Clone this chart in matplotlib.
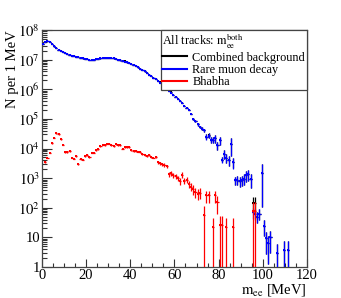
import numpy as np
import matplotlib
matplotlib.use('Agg')
import matplotlib.pyplot as plt
from matplotlib.lines import Line2D
from matplotlib.ticker import FuncFormatter, LogLocator, MultipleLocator, NullFormatter

plt.rcParams['font.family'] = ['Liberation Serif', 'DejaVu Serif']
plt.rcParams['mathtext.fontset'] = 'stix'

nan = np.nan

# rare muon decay, N per 1 MeV bin (bins 0-1, 1-2, ... MeV)
blue_n = [3.5e7, 4.0e7, 4.4e7, 4.0e7, 3.3e7, 2.8e7, 2.45e7, 2.15e7, 1.95e7, 1.78e7,
          1.66e7, 1.55e7, 1.45e7, 1.38e7, 1.32e7, 1.26e7, 1.20e7, 1.15e7, 1.10e7, 1.07e7,
          1.03e7, 1.0e7, 1.0e7, 1.0e7, 1.03e7, 1.07e7, 1.10e7, 1.12e7, 1.15e7, 1.15e7,
          1.15e7, 1.12e7, 1.10e7, 1.05e7, 1.0e7, 9.5e6, 9.1e6, 8.7e6, 8.1e6, 7.8e6,
          7.2e6, 6.6e6, 6.0e6, 5.5e6, 5.0e6, 4.5e6, 4.0e6, 3.55e6, 3.16e6, 2.8e6,
          2.5e6, 2.24e6, 1.95e6, 1.7e6, 1.48e6, 1.26e6, 1.07e6, 9.1e5, 7.8e5, 6.6e5,
          5.6e5, 4.8e5, 4.1e5, 3.4e5, 2.8e5, 2.35e5, 2.0e5, 1.5e5, 1.0e5, 8.5e4,
          6.6e4, 5.4e4, 4.7e4, 4.2e4, 2.5e4, 2.75e4, 2.0e4, 2.0e4, 2.2e4, 1.3e4,
          1.9e4, 4.2e3, 6.8e3, 4.9e3, 4.0e3, 1.45e4, 3.5e3, 850, 900, 800,
          850, 950, 1250, 1350, 950, 70, 63, 50, 63, 1500,
          24, 9.3, 6.3, 10, nan, nan, 2.9, nan, nan, 3.7,
          nan, 3.7]
# relative errors of the blue points from the 68-69 MeV bin on
blue_tail_relerr = [0.08, 0.08, 0.1, 0.1, 0.12, 0.12, 0.2, 0.2, 0.25, 0.25,
                    0.3, 0.3, 0.3, 0.2, 0.35, 0.35, 0.35, 0.6, 0.4, 0.3,
                    0.35, 0.35, 0.35, 0.4, 0.4, 0.4, 0.5, 0.4, 0.4, 0.4,
                    0.4, 0.93, 0.55, 0.7, 0.8, 0.7, 0, 0, 1.0, 0,
                    0, 1.0, 0, 1.0]

# Bhabha, N per 1 MeV bin
red_n = [nan, 3500, 4900, 7200, 15500, 23500, 33000, 30000, 20500, 13500,
         7600, 7600, 8300, 4900, 4600, 5600, 2900, 4400, 4200, 5600,
         6000, 5100, 7200, 7200, 8700, 9300, 12000, 13500, 12900, 14500,
         14500, 12900, 12000, 13800, 12900, 12900, 10000, 11200, 11200, 11200,
         8700, 8300, 8300, 7900, 7600, 6300, 5900, 5600, 6000, 5000,
         4900, 5200, 3500, 3200, 2950, 2800, 2500, 1400, 1500, 1250,
         1150, 1000, 800, 1300, 830, 900, 630, 520, 420, 350,
         300, 320, nan, 56, 260, 260, nan, 22, 260, 160,
         26, 26, nan, 22, nan, nan, 22, nan, nan, nan,
         nan, nan, nan, nan, nan, 80, 80]
# relative errors of the red points from the 52-53 MeV bin on
red_tail_relerr = [0.12, 0.13, 0.13, 0.13, 0.14, 0.19, 0.18, 0.2, 0.21, 0.22,
                   0.25, 0.2, 0.25, 0.24, 0.28, 0.31, 0.35, 0.38, 0.4, 0.4,
                   0, 1.0, 0.45, 0.45, 0, 1.0, 0.45, 0.6, 1.0, 1.0,
                   0, 1.0, 0, 0, 1.0, 0, 0, 0, 0, 0,
                   0, 0, 0, 1.0, 1.0]

labels = ['Combined background', 'Rare muon decay', 'Bhabha']
colors = ['black', '#0000ff', '#ff0000']

blue_n = np.array(blue_n)
red_n = np.array(red_n)
blue_err = blue_n * np.concatenate([np.full(len(blue_n) - len(blue_tail_relerr), 0.01), blue_tail_relerr])
red_err = red_n * np.concatenate([np.full(len(red_n) - len(red_tail_relerr), 0.05), red_tail_relerr])
blue_x = np.arange(len(blue_n)) + 0.5
red_x = np.arange(len(red_n)) + 0.5

# combined = sum of both samples
comb_n = np.nan_to_num(blue_n).copy()
comb_n[:len(red_n)] += np.nan_to_num(red_n)
comb_err2 = np.nan_to_num(blue_err) ** 2
comb_err2[:len(red_n)] += np.nan_to_num(red_err) ** 2
comb_n[comb_n == 0] = nan
comb_err = np.sqrt(comb_err2)

fig = plt.figure(figsize=(3.41, 2.98), dpi=100)
ax = fig.add_axes([0.123, 0.104, 0.777, 0.795])


def draw(x, n, err, c, z):
    lo = np.minimum(err, n * 0.999)
    ax.errorbar(x, n, yerr=[lo, err], xerr=0.5, fmt='s', ms=1.5, mew=0, color=c,
                ecolor=c, elinewidth=0.9, capsize=0, zorder=z)


draw(blue_x, comb_n, comb_err, colors[0], 2)
draw(blue_x, blue_n, blue_err, colors[1], 3)
draw(red_x, red_n, red_err, colors[2], 4)

ax.set_yscale('log')
ax.set_xlim(0, 120)
ax.set_ylim(1, 1e8)

ax.xaxis.set_major_locator(MultipleLocator(20))
ax.xaxis.set_minor_locator(MultipleLocator(5))
ax.yaxis.set_major_locator(LogLocator(base=10, numticks=20))
ax.yaxis.set_minor_locator(LogLocator(base=10, subs=np.arange(2, 10), numticks=20))
ax.yaxis.set_minor_formatter(NullFormatter())


def ylab(v, pos):
    p = int(round(np.log10(v)))
    if p == 0:
        return '1'
    if p == 1:
        return '10'
    return '$10^{%d}$' % p


ax.yaxis.set_major_formatter(FuncFormatter(ylab))
ax.tick_params(which='both', direction='in', top=False, right=False, labelsize=10.5, width=0.8, color='#333333')
ax.tick_params(axis='y', which='major', length=7, pad=1.5)
ax.tick_params(axis='y', which='minor', length=3.5)
ax.tick_params(axis='x', which='major', length=6, pad=1.5)
ax.tick_params(axis='x', which='minor', length=3)
ax.xaxis.offsetText.set_visible(False)
ax.yaxis.offsetText.set_visible(False)
for s in ax.spines.values():
    s.set_color('#444444')
    s.set_linewidth(0.9)

ax.set_ylabel('N per 1 MeV', fontsize=10.5, loc='top')
ax.yaxis.set_label_coords(-0.085, 1.0)
ax.set_xlabel(r'$\mathrm{m_{ee}}$ [MeV]', fontsize=10.5, loc='right')
ax.xaxis.set_label_coords(1.0, -0.065)

handles = [Line2D([], [], color=c, lw=1.5) for c in colors]
leg = ax.legend(handles, labels, title=r'All tracks: $\mathrm{m_{ee}^{both}}$', loc='upper right',
                bbox_to_anchor=(1, 1), borderaxespad=0, fontsize=8.8, title_fontsize=8.8,
                handlelength=2.0, handletextpad=0.45, labelspacing=0.02, borderpad=0.15,
                fancybox=False, framealpha=1, edgecolor='#444444', alignment='left')
leg.get_frame().set_linewidth(0.9)
leg.set_zorder(10)

fig.savefig('out.png', dpi=100)
